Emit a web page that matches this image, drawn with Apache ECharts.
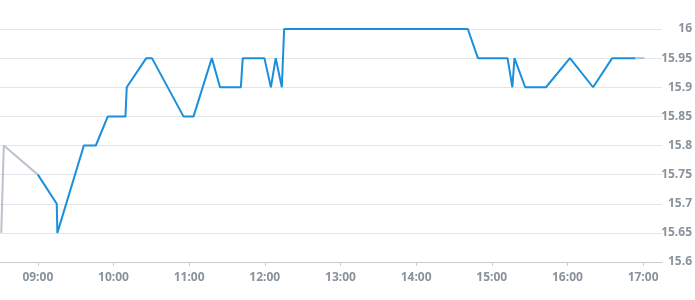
<!DOCTYPE html>
<html>
<head>
<meta charset="utf-8">
<script src="https://cdn.jsdelivr.net/npm/echarts@6/dist/echarts.min.js"></script>
<style>html,body{margin:0;padding:0;background:#fff}#c{width:695px;height:300px}</style>
</head>
<body>
<div id="c"></div>
<script>
// Pre-market (gray)
var preTimes = ["08:31:00", "08:33:00", "09:00:00"];
var preValues = [15.65, 15.8, 15.75];
// Regular session (blue)
var mainTimes = ["09:00:00", "09:15:00", "09:15:30", "09:36:30", "09:46:00", "09:55:30", "10:09:30", "10:10:30",
  "10:26:00", "10:30:30", "10:55:30", "11:03:30", "11:18:00", "11:24:30", "11:41:00", "11:42:30",
  "11:59:40", "12:04:50", "12:08:40", "12:13:30", "12:15:20", "14:41:00", "14:49:00", "15:12:30",
  "15:16:20", "15:18:00", "15:26:30", "15:43:00", "16:02:00", "16:20:20", "16:35:30", "16:54:00"];
var mainValues = [15.75, 15.7, 15.65, 15.8, 15.8, 15.85, 15.85, 15.9,
  15.95, 15.95, 15.85, 15.85, 15.95, 15.9, 15.9, 15.95,
  15.95, 15.9, 15.95, 15.9, 16, 16, 15.95, 15.95,
  15.9, 15.95, 15.9, 15.9, 15.95, 15.9, 15.95, 15.95];
// After-hours (light)
var postTimes = ["16:54:00", "17:01:00"];
var postValues = [15.95, 15.95];
var yTicks = [15.6, 15.65, 15.7, 15.75, 15.8, 15.85, 15.9, 15.95, 16];

function ts(t) {
  var p = t.split(":").map(Number);
  return new Date(2024, 0, 2, p[0], p[1], p[2] || 0).getTime();
}
function pairs(times, vals) {
  return times.map(function (t, i) { return [ts(t), vals[i]]; });
}
var chart = echarts.init(document.getElementById('c'));
var labelColor = '#8a929b';
chart.setOption({
  animation: false,
  grid: { left: 0, right: 31, top: 29, bottom: 38 },
  xAxis: {
    type: 'time',
    min: ts("08:30:00"),
    max: ts("17:15:00"),
    minInterval: 3600000,
    maxInterval: 3600000,
    axisLine: { lineStyle: { color: '#c9cdd2' } },
    axisTick: { show: true, length: 4, lineStyle: { color: '#c9cdd2' } },
    splitLine: { show: false },
    axisLabel: {
      color: labelColor, fontSize: 12, fontWeight: 'bold', fontFamily: 'Open Sans', margin: 10,
      showMinLabel: false, showMaxLabel: false,
      formatter: function (v) {
        var d = new Date(v);
        var h = d.getHours(), m = d.getMinutes();
        return (h < 10 ? '0' : '') + h + ':' + (m < 10 ? '0' : '') + m;
      }
    }
  },
  yAxis: {
    type: 'value',
    position: 'right',
    min: yTicks[0],
    max: yTicks[yTicks.length - 1],
    interval: 0.05,
    axisLine: { show: false },
    axisTick: { show: false },
    splitLine: { lineStyle: { color: '#e3e6e9' } },
    axisLabel: {
      color: labelColor, fontSize: 12, fontWeight: 'bold', fontFamily: 'Open Sans',
      align: 'right', margin: 30,
      formatter: function (v) { return String(parseFloat(v.toFixed(2))); }
    }
  },
  series: [
    { type: 'line', data: pairs(preTimes, preValues), showSymbol: false, symbol: 'none',
      lineStyle: { color: '#bcc3ca', width: 2 } },
    { type: 'line', data: pairs(mainTimes, mainValues), showSymbol: false, symbol: 'none',
      lineStyle: { color: '#1a8fdc', width: 2 } },
    { type: 'line', data: pairs(postTimes, postValues), showSymbol: false, symbol: 'none',
      lineStyle: { color: '#a9c6dc', width: 2 } }
  ]
});
</script>
</body>
</html>
